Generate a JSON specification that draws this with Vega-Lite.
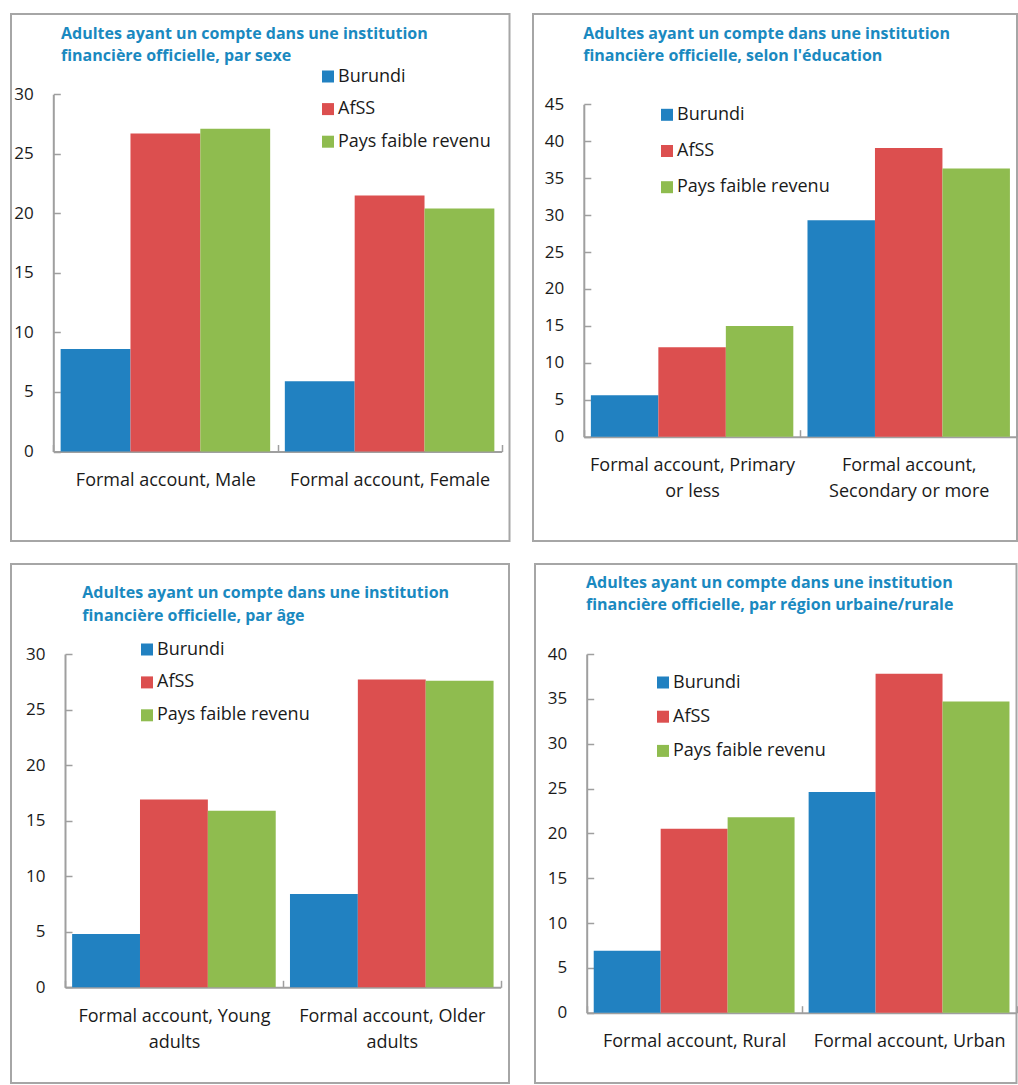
{
  "$schema": "https://vega.github.io/schema/vega-lite/v6.json",
  "padding": {"left": 10, "top": 13, "right": 0, "bottom": 0},
  "background": "white",
  "data": {"values": [
    {"panel": "sexe", "group": "Formal account, Male", "series": "Burundi", "value": 8.6},
    {"panel": "sexe", "group": "Formal account, Male", "series": "AfSS", "value": 26.7},
    {"panel": "sexe", "group": "Formal account, Male", "series": "Pays faible revenu", "value": 27.1},
    {"panel": "sexe", "group": "Formal account, Female", "series": "Burundi", "value": 5.9},
    {"panel": "sexe", "group": "Formal account, Female", "series": "AfSS", "value": 21.5},
    {"panel": "sexe", "group": "Formal account, Female", "series": "Pays faible revenu", "value": 20.4},
    {"panel": "education", "group": "Formal account, Primary|or less", "series": "Burundi", "value": 5.6},
    {"panel": "education", "group": "Formal account, Primary|or less", "series": "AfSS", "value": 12.1},
    {"panel": "education", "group": "Formal account, Primary|or less", "series": "Pays faible revenu", "value": 15.0},
    {"panel": "education", "group": "Formal account,|Secondary or more", "series": "Burundi", "value": 29.3},
    {"panel": "education", "group": "Formal account,|Secondary or more", "series": "AfSS", "value": 39.1},
    {"panel": "education", "group": "Formal account,|Secondary or more", "series": "Pays faible revenu", "value": 36.3},
    {"panel": "age", "group": "Formal account, Young|adults", "series": "Burundi", "value": 4.8},
    {"panel": "age", "group": "Formal account, Young|adults", "series": "AfSS", "value": 16.9},
    {"panel": "age", "group": "Formal account, Young|adults", "series": "Pays faible revenu", "value": 15.9},
    {"panel": "age", "group": "Formal account, Older|adults", "series": "Burundi", "value": 8.4},
    {"panel": "age", "group": "Formal account, Older|adults", "series": "AfSS", "value": 27.7},
    {"panel": "age", "group": "Formal account, Older|adults", "series": "Pays faible revenu", "value": 27.6},
    {"panel": "region", "group": "Formal account, Rural", "series": "Burundi", "value": 6.9},
    {"panel": "region", "group": "Formal account, Rural", "series": "AfSS", "value": 20.5},
    {"panel": "region", "group": "Formal account, Rural", "series": "Pays faible revenu", "value": 21.8},
    {"panel": "region", "group": "Formal account, Urban", "series": "Burundi", "value": 24.6},
    {"panel": "region", "group": "Formal account, Urban", "series": "AfSS", "value": 37.8},
    {"panel": "region", "group": "Formal account, Urban", "series": "Pays faible revenu", "value": 34.7}
  ]},
  "spacing": 21,
  "resolve": {"scale": {"x": "independent", "y": "independent", "xOffset": "independent", "color": "independent"}},
  "vconcat": [
    {
      "spacing": 21,
      "resolve": {"scale": {"x": "independent", "y": "independent", "xOffset": "independent", "color": "independent"}},
      "hconcat": [
        {
          "width": 498.5, "height": 527,
          "transform": [{"filter": "datum.panel == 'sexe'"}],
          "title": {"text": ["Adultes ayant un compte dans une institution", "financière officielle, par sexe"], "anchor": "start", "frame": "group", "orient": "top", "baseline": "top", "offset": -50.2, "dx": 50, "fontSize": 16, "font": "Open Sans", "fontWeight": "bold", "color": "#1a89c0", "lineHeight": 22.5},
          "mark": {"type": "bar"},
          "encoding": {
            "x": {"field": "group", "type": "nominal", "sort": null, "scale": {"range": [42.3, 490.7], "paddingInner": 0, "paddingOuter": 0}, "axis": {"offset": -89.5}},
            "xOffset": {"field": "series", "type": "nominal", "sort": ["Burundi", "AfSS", "Pays faible revenu"], "scale": {"paddingInner": 0, "paddingOuter": 0.105}},
            "y": {"field": "value", "type": "quantitative", "scale": {"domain": [0, 30], "nice": false, "range": [437.5, 80.3]}, "axis": {"offset": -42.3, "values": [0, 5, 10, 15, 20, 25, 30]}},
            "color": {"field": "series", "type": "nominal", "scale": {"domain": ["Burundi", "AfSS", "Pays faible revenu"], "range": ["#2181c1", "#dc4f4f", "#8fbc4f"]}, "legend": {"orient": "none", "legendX": 308, "legendY": 53.5, "rowPadding": 14.6}}
          }
        },
        {
          "width": 484, "height": 527,
          "transform": [{"filter": "datum.panel == 'education'"}],
          "title": {"text": ["Adultes ayant un compte dans une institution", "financière officielle, selon l'éducation"], "anchor": "start", "frame": "group", "orient": "top", "baseline": "top", "offset": -50.2, "dx": 50.2, "fontSize": 16, "font": "Open Sans", "fontWeight": "bold", "color": "#1a89c0", "lineHeight": 22.5},
          "mark": {"type": "bar"},
          "encoding": {
            "x": {"field": "group", "type": "nominal", "sort": null, "scale": {"range": [50.8, 484], "paddingInner": 0, "paddingOuter": 0}, "axis": {"offset": -104.3}},
            "xOffset": {"field": "series", "type": "nominal", "sort": ["Burundi", "AfSS", "Pays faible revenu"], "scale": {"paddingInner": 0, "paddingOuter": 0.105}},
            "y": {"field": "value", "type": "quantitative", "scale": {"domain": [0, 45], "nice": false, "range": [422.7, 90.3]}, "axis": {"offset": -50.8, "values": [0, 5, 10, 15, 20, 25, 30, 35, 40, 45]}},
            "color": {"field": "series", "type": "nominal", "scale": {"domain": ["Burundi", "AfSS", "Pays faible revenu"], "range": ["#2181c1", "#dc4f4f", "#8fbc4f"]}, "legend": {"orient": "none", "legendX": 125, "legendY": 91.8, "rowPadding": 18.2}}
          }
        }
      ]
    },
    {
      "spacing": 24,
      "resolve": {"scale": {"x": "independent", "y": "independent", "xOffset": "independent", "color": "independent"}},
      "hconcat": [
        {
          "width": 498, "height": 519,
          "transform": [{"filter": "datum.panel == 'age'"}],
          "title": {"text": ["Adultes ayant un compte dans une institution", "financière officielle, par âge"], "anchor": "start", "frame": "group", "orient": "top", "baseline": "top", "offset": -59.5, "dx": 71.3, "fontSize": 16, "font": "Open Sans", "fontWeight": "bold", "color": "#1a89c0", "lineHeight": 22.5},
          "mark": {"type": "bar"},
          "encoding": {
            "x": {"field": "group", "type": "nominal", "sort": null, "scale": {"range": [54, 489.7], "paddingInner": 0, "paddingOuter": 0}, "axis": {"offset": -95.7}},
            "xOffset": {"field": "series", "type": "nominal", "sort": ["Burundi", "AfSS", "Pays faible revenu"], "scale": {"paddingInner": 0, "paddingOuter": 0.105}},
            "y": {"field": "value", "type": "quantitative", "scale": {"domain": [0, 30], "nice": false, "range": [423.3, 90]}, "axis": {"offset": -54, "values": [0, 5, 10, 15, 20, 25, 30]}},
            "color": {"field": "series", "type": "nominal", "scale": {"domain": ["Burundi", "AfSS", "Pays faible revenu"], "range": ["#2181c1", "#dc4f4f", "#8fbc4f"]}, "legend": {"orient": "none", "legendX": 127, "legendY": 76.5, "rowPadding": 14.9}}
          }
        },
        {
          "width": 481.5, "height": 519,
          "transform": [{"filter": "datum.panel == 'region'"}],
          "title": {"text": ["Adultes ayant un compte dans une institution", "financière officielle, par région urbaine/rurale"], "anchor": "start", "frame": "group", "orient": "top", "baseline": "top", "offset": -49, "dx": 51, "fontSize": 16, "font": "Open Sans", "fontWeight": "bold", "color": "#1a89c0", "lineHeight": 22.5},
          "mark": {"type": "bar"},
          "encoding": {
            "x": {"field": "group", "type": "nominal", "sort": null, "scale": {"range": [51.7, 481.5], "paddingInner": 0, "paddingOuter": 0}, "axis": {"offset": -70.3}},
            "xOffset": {"field": "series", "type": "nominal", "sort": ["Burundi", "AfSS", "Pays faible revenu"], "scale": {"paddingInner": 0, "paddingOuter": 0.105}},
            "y": {"field": "value", "type": "quantitative", "scale": {"domain": [0, 40], "nice": false, "range": [448.7, 90]}, "axis": {"offset": -51.7, "values": [0, 5, 10, 15, 20, 25, 30, 35, 40]}},
            "color": {"field": "series", "type": "nominal", "scale": {"domain": ["Burundi", "AfSS", "Pays faible revenu"], "range": ["#2181c1", "#dc4f4f", "#8fbc4f"]}, "legend": {"orient": "none", "legendX": 119, "legendY": 109.5, "rowPadding": 16.2}}
          }
        }
      ]
    }
  ],
  "config": {
    "font": "Open Sans",
    "view": {"stroke": "#a6a6a6", "strokeWidth": 2},
    "axis": {"title": null, "grid": false, "domainColor": "#9f9f9f", "domainWidth": 2, "tickColor": "#9f9f9f", "tickWidth": 1.5, "tickSize": -7, "labelFont": "Open Sans", "labelFontSize": 17, "labelColor": "#1a1a1a"},
    "axisY": {"labelPadding": 27},
    "axisX": {"labelAngle": 0, "labelFontSize": 18, "labelPadding": 27, "tickBand": "extent", "labelExpr": "split(datum.label, '|')", "labelLineHeight": 26, "labelLimit": 0, "labelOverlap": false},
    "legend": {"title": null, "symbolType": "square", "symbolSize": 144, "symbolStrokeWidth": 0, "labelFont": "Open Sans", "labelFontSize": 18, "labelColor": "#1a1a1a", "labelOffset": 1, "padding": 0, "labelLimit": 0}
  }
}
